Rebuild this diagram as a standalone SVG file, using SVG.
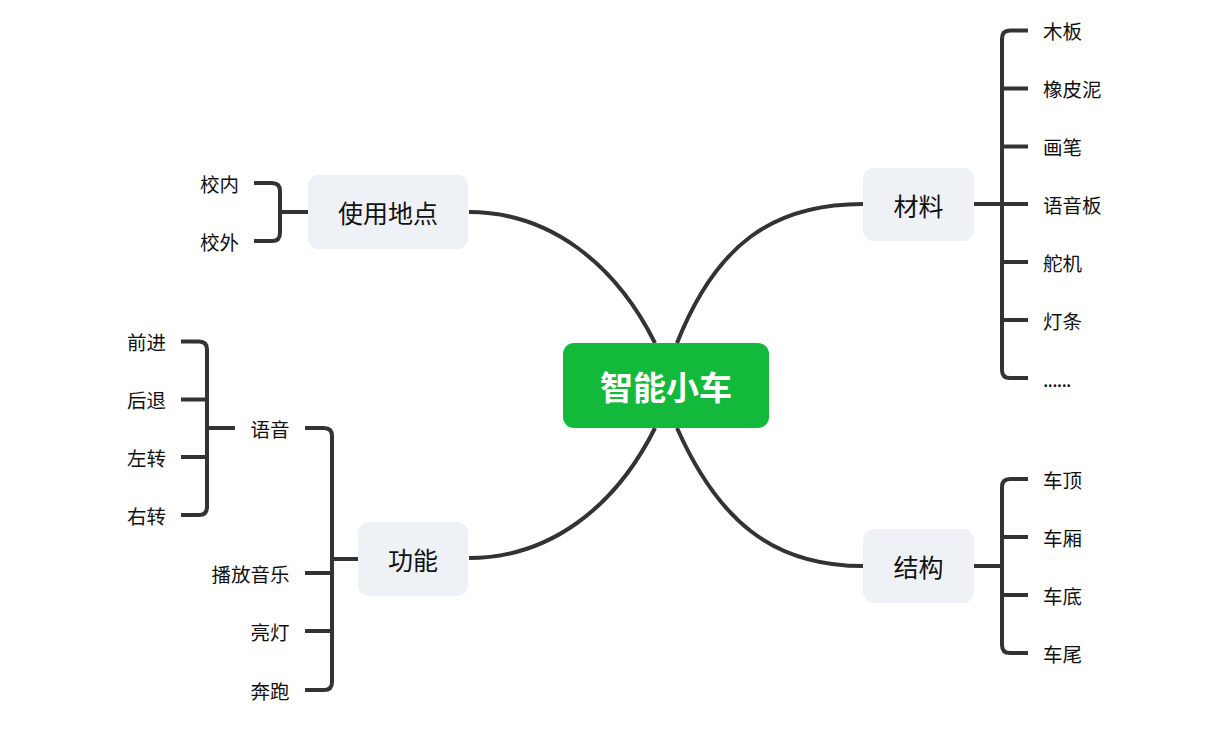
<svg xmlns="http://www.w3.org/2000/svg" width="1224" height="730" viewBox="0 0 1224 730">
<style>
.bg{fill:#ffffff}
.root rect{fill:#13B93B}
.root text{fill:#ffffff;font-family:"Noto Sans CJK SC","Noto Sans",sans-serif;font-size:33px;font-weight:bold;text-anchor:middle;dominant-baseline:central}
.main rect{fill:#EEF1F5}
.main text{fill:#111111;font-family:"Noto Sans CJK SC","Noto Sans",sans-serif;font-size:25px;text-anchor:middle;dominant-baseline:central}
.leaf text{fill:#111111;font-family:"Noto Sans CJK SC","Noto Sans",sans-serif;font-size:19.5px;dominant-baseline:central}
.r text{text-anchor:start}
.l text{text-anchor:end}
.conn path{fill:none;stroke:#333333;stroke-width:4;stroke-linecap:butt}
</style>
<rect class="bg" x="0" y="0" width="1224" height="730"/>
<g id="connectors" class="conn">
  <path d="M469,212 C549,212 615,263 655,343"/>
  <path d="M863,204 C772,204 716,245 677,343"/>
  <path d="M469,558 C549,558 615,508 655,428"/>
  <path d="M863,566 C772,566 718,520 677,428"/>
  <!-- 使用地点 bracket -->
  <path d="M254,183 H272 Q280,183 280,191 V233 Q280,241 272,241 H254"/>
  <path d="M280,212 H308"/>
  <!-- 材料 bracket -->
  <path d="M1028,30.5 H1010 Q1002,30.5 1002,38.5 V370 Q1002,378 1010,378 H1028"/>
  <path d="M974,204 H1028"/>
  <path d="M1002,88.5 H1028"/>
  <path d="M1002,146.5 H1028"/>
  <path d="M1002,262 H1028"/>
  <path d="M1002,320 H1028"/>
  <!-- 结构 bracket -->
  <path d="M1028,479 H1010 Q1002,479 1002,487 V645 Q1002,653 1010,653 H1028"/>
  <path d="M974,566 H1002"/>
  <path d="M1002,537 H1028"/>
  <path d="M1002,595 H1028"/>
  <!-- 功能 bracket -->
  <path d="M305,428 H324 Q332,428 332,436 V682 Q332,690 324,690 H305"/>
  <path d="M332,559 H358"/>
  <path d="M305,573 H332"/>
  <path d="M305,631 H332"/>
  <!-- 语音 bracket -->
  <path d="M181,341.5 H199 Q207,341.5 207,349.5 V507 Q207,515 199,515 H181"/>
  <path d="M207,428 H235"/>
  <path d="M181,399.5 H207"/>
  <path d="M181,457 H207"/>
</g>
<g id="root" class="root">
  <rect x="563" y="343" width="206" height="85" rx="11"/>
  <text x="666" y="385.5">智能小车</text>
</g>
<g id="node-location" class="main">
  <rect x="308" y="175" width="160" height="74" rx="11"/>
  <text x="388" y="212">使用地点</text>
</g>
<g id="node-material" class="main">
  <rect x="863" y="168" width="111" height="73" rx="11"/>
  <text x="918.5" y="204.5">材料</text>
</g>
<g id="node-function" class="main">
  <rect x="358" y="522" width="110" height="74" rx="11"/>
  <text x="413" y="559">功能</text>
</g>
<g id="node-structure" class="main">
  <rect x="863" y="529" width="111" height="74" rx="11"/>
  <text x="918.5" y="566">结构</text>
</g>
<g id="leaf-xiaonei" class="leaf l"><text x="239" y="183">校内</text></g>
<g id="leaf-xiaowai" class="leaf l"><text x="239" y="241">校外</text></g>
<g id="leaf-muban" class="leaf r"><text x="1043" y="30.5">木板</text></g>
<g id="leaf-xiangpini" class="leaf r"><text x="1043" y="88.5">橡皮泥</text></g>
<g id="leaf-huabi" class="leaf r"><text x="1043" y="146.5">画笔</text></g>
<g id="leaf-yuyinban" class="leaf r"><text x="1043" y="204.5">语音板</text></g>
<g id="leaf-duoji" class="leaf r"><text x="1043" y="262.5">舵机</text></g>
<g id="leaf-dengtiao" class="leaf r"><text x="1043" y="320">灯条</text></g>
<g id="leaf-etc" class="leaf r"><text x="1043" y="378" letter-spacing="-0.8">......</text></g>
<g id="leaf-cheding" class="leaf r"><text x="1043" y="479">车顶</text></g>
<g id="leaf-chexiang" class="leaf r"><text x="1043" y="537">车厢</text></g>
<g id="leaf-chedi" class="leaf r"><text x="1043" y="595">车底</text></g>
<g id="leaf-chewei" class="leaf r"><text x="1043" y="653">车尾</text></g>
<g id="leaf-yuyin" class="leaf l"><text x="289.5" y="428">语音</text></g>
<g id="leaf-bofang" class="leaf l"><text x="289.5" y="573">播放音乐</text></g>
<g id="leaf-liangdeng" class="leaf l"><text x="289.5" y="631">亮灯</text></g>
<g id="leaf-benpao" class="leaf l"><text x="289.5" y="690">奔跑</text></g>
<g id="leaf-qianjin" class="leaf l"><text x="166" y="341.5">前进</text></g>
<g id="leaf-houtui" class="leaf l"><text x="166" y="399.5">后退</text></g>
<g id="leaf-zuozhuan" class="leaf l"><text x="166" y="457">左转</text></g>
<g id="leaf-youzhuan" class="leaf l"><text x="166" y="515">右转</text></g>
</svg>
